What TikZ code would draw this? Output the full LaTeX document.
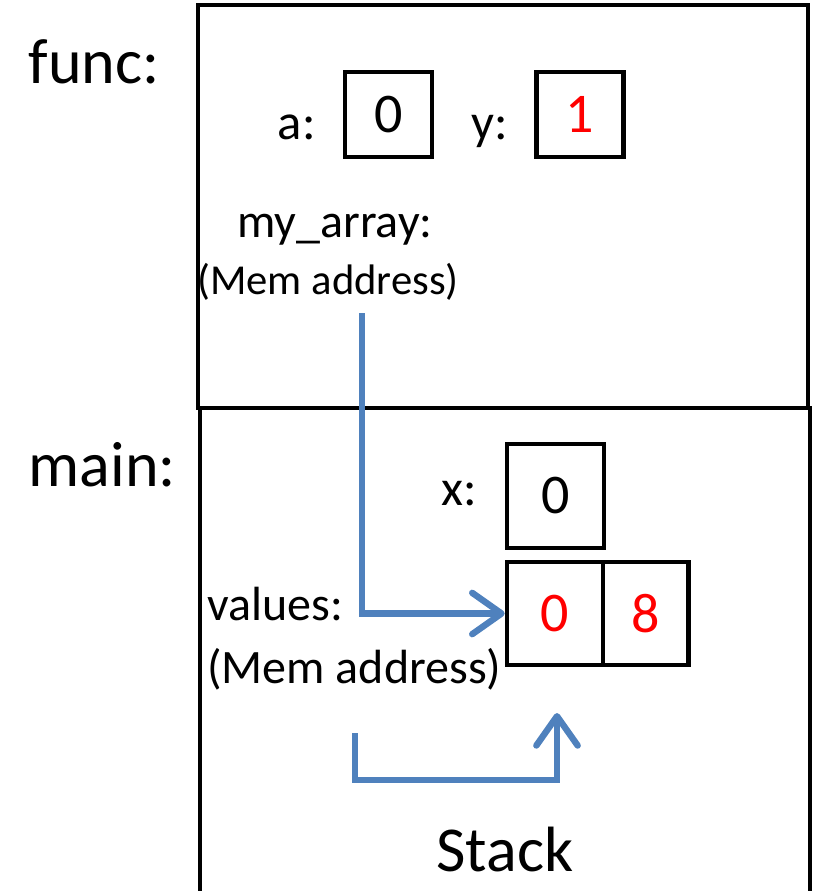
\documentclass[tikz,border=0pt]{standalone}
\usepackage{fontspec}
\setmainfont{Carlito}
\usetikzlibrary{arrows.meta,positioning}

\definecolor{ptrblue}{RGB}{79,129,189}
\definecolor{valred}{RGB}{255,0,0}

\tikzset{
  frame/.style={line width=3.4pt},
  title/.style={font=\fontsize{48}{52}\selectfont},
  lbl/.style={font=\fontsize{36}{40}\selectfont, inner sep=0pt},
  varlbl/.style={font=\fontsize{38}{42}\selectfont, inner sep=0pt, anchor=base east},
  addr/.style={font=\fontsize{32}{36}\selectfont, inner sep=0pt},
  cell/.style={draw, line width=3.4pt, inner sep=0pt,
    font=\fontsize{42}{44}\selectfont},
  ptr/.style={draw=ptrblue, line width=4.8pt,
    -{Straight Barb[round,length=22pt,width=31pt]}}
}

\begin{document}
\begin{tikzpicture}[x=0.75pt,y=-0.75pt]
  \useasboundingbox (0,0) rectangle (821,891);

  % Frames
  \draw[frame] (198,5) rectangle (808,408);
  \draw[frame] (200,893) -- (200,408) -- (810,408) -- (810,893);

  % Frame names
  \node[title, anchor=west] (func) at (24,62) {func:};
  \node[title, anchor=west] (main) at (24,465) {main:};

  % func variables
  \node[cell, minimum width=65pt, minimum height=64pt] (a) at (388.5,114.5) {0};
  \node[varlbl] (alabel) at (316,140) {a:};
  \node[cell, minimum width=65pt, minimum height=64pt, text=valred] (y) at (580,114.5) {1};
  \node[varlbl] (ylabel) at (508,140) {y:};
  \node[lbl, anchor=base west] (myarray) at (237,238) {my\_array:};
  \node[addr, anchor=base west] (myaddr) at (197,294) {(Mem address)};

  % main variables
  \node[cell, minimum width=73pt, minimum height=78pt] (x) at (555.5,496) {0};
  \node[varlbl] (xlabel) at (477,505) {x:};
  \node[cell, minimum width=72pt, minimum height=77pt, text=valred] (c0) at (555,613.5) {0};
  \node[cell, minimum width=64pt, minimum height=77pt, text=valred, right=-3.4pt of c0] (c1) {8};
  \node[lbl, anchor=base west] (values) at (207,620) {values:};
  \node[lbl, anchor=base west] (valaddr) at (207,683) {(Mem address)};

  \node[title] (stack) at (505,850) {Stack};

  % Pointers
  \coordinate (p1) at (362,313);
  \draw[ptr] (p1) |- (c0.west);
  \coordinate (s1) at (355,733);
  \coordinate (s2) at (557,713);
  \draw[ptr] (s1) -- ++(0,47) -| (s2);
\end{tikzpicture}
\end{document}
